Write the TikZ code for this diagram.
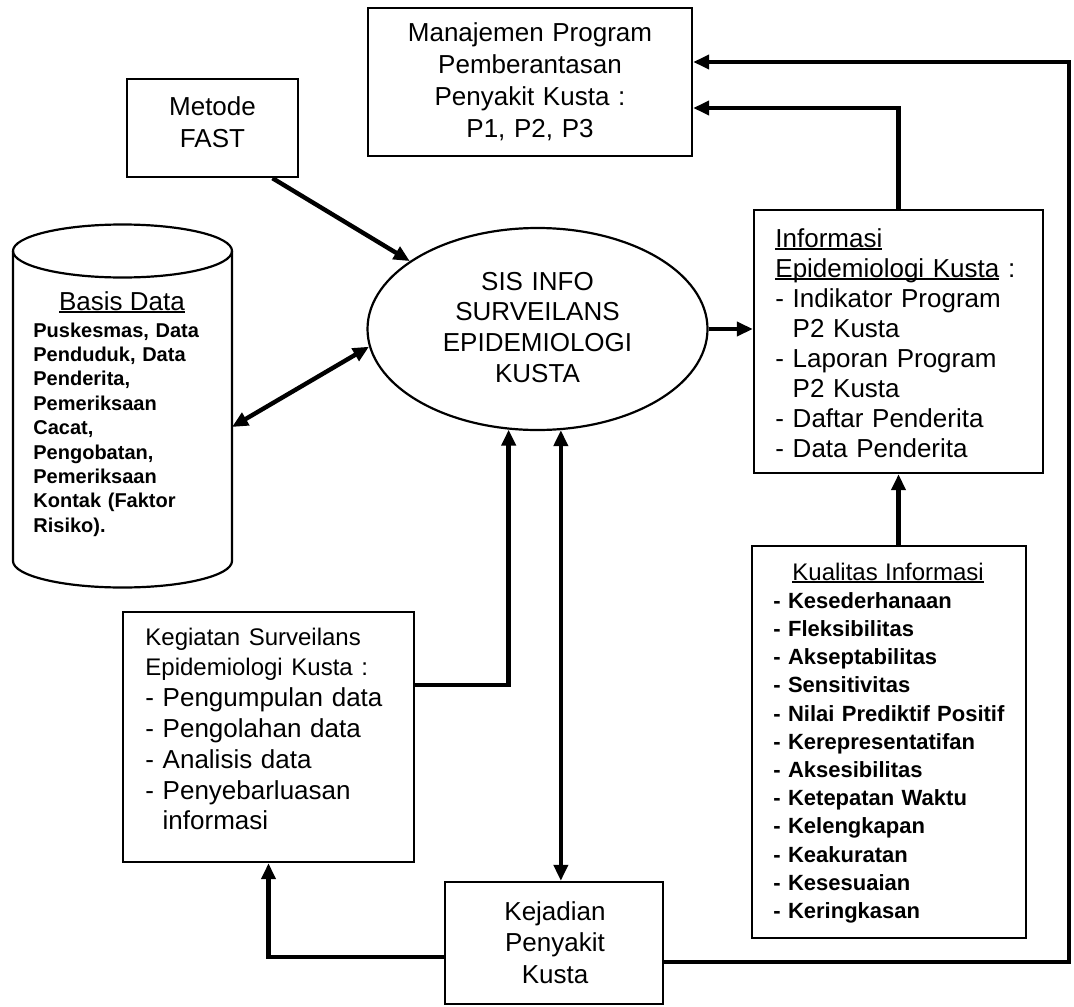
\documentclass[tikz,border=0pt]{standalone}
\usepackage{fontspec}
\setmainfont{Liberation Sans}
\usetikzlibrary{arrows.meta,shapes.geometric}

% underline drawn close to the baseline, as in a word processor
\newsavebox{\wlbox}
\newcommand{\wline}[1]{\leavevmode\sbox{\wlbox}{#1}\rlap{\rule[-0.12em]{\wd\wlbox}{0.065em}}\usebox{\wlbox}}

\begin{document}
\begin{tikzpicture}[x=0.5pt,y=-0.5pt,
  box/.style={draw, rectangle, line width=1.2pt, inner sep=0pt},
  txt/.style={inner sep=0pt, anchor=base},
  ltxt/.style={inner sep=0pt, anchor=base west, align=left},
  tip/.tip={Triangle[length=8pt,width=7pt]},
  flow/.style={line width=2.2pt, -tip},
  both/.style={line width=2.2pt, tip-tip},
  dbline/.style={line width=1.1pt}
]
\fill[white] (0,0) rectangle (1074,1006);
\useasboundingbox (0,0) rectangle (1074,1006);

% ---- boxes ----
\node[box, minimum width=85.5pt, minimum height=49pt] (metode) at (212.5,128) {};
\node[txt, align=center, text width=80pt, font=\fontsize{13}{16}\selectfont] (metodeText) at (212.5,115) {Metode\\FAST};

\node[box, minimum width=162pt, minimum height=74pt] (manaj) at (530,82) {};
\node[txt, align=center, text width=155pt, font=\fontsize{13}{15.85}\selectfont] (manajText) at (530,42)
  {Manajemen Program\\Pemberantasan\\Penyakit Kusta :\\P1, P2, P3};

\node[draw, ellipse, line width=1.1pt, minimum width=170pt, minimum height=101pt, inner sep=0pt] (sis) at (537.5,329) {};
\node[txt, align=center, text width=150pt, font=\fontsize{13}{15.35}\selectfont] (sisText) at (537.5,290)
  {SIS INFO\\SURVEILANS\\EPIDEMIOLOGI\\KUSTA};

\node[box, minimum width=144.5pt, minimum height=131.5pt] (info) at (898.5,341.5) {};
\node[ltxt, text width=132pt, font=\fontsize{13}{15}\selectfont] (infoText) at (775,247)
  {\wline{Informasi}\\\wline{Epidemiologi Kusta}~:\\- Indikator Program\\\phantom{- }P2 Kusta\\- Laporan Program\\\phantom{- }P2 Kusta\\- Daftar Penderita\\- Data Penderita};

\node[box, minimum width=137pt, minimum height=196pt] (kual) at (889,742) {};
\node[ltxt, text width=130pt, font=\bfseries\fontsize{11}{14.1}\selectfont] (kualText) at (773,580)
  {\hspace*{9.5pt}{\mdseries\fontsize{12}{14.1}\selectfont\wline{Kualitas Informasi}}\\
   - Kesederhanaan\\- Fleksibilitas\\- Akseptabilitas\\- Sensitivitas\\- Nilai Prediktif Positif\\
   - Kerepresentatifan\\- Aksesibilitas\\- Ketepatan Waktu\\- Kelengkapan\\- Keakuratan\\
   - Kesesuaian\\- Keringkasan};

\node[box, minimum width=145.5pt, minimum height=125pt] (kegiatan) at (268.5,737) {};
\node[ltxt, text width=130pt, font=\fontsize{13}{15.4}\selectfont] (kegText) at (145,645)
  {{\fontsize{12}{15.4}\selectfont Kegiatan Surveilans}\\{\fontsize{12}{15.4}\selectfont Epidemiologi Kusta :}\\
   - Pengumpulan data\\- Pengolahan data\\- Analisis data\\- Penyebarluasan\\\phantom{- }informasi};

\node[box, minimum width=109pt, minimum height=61pt] (kejadian) at (554,943) {};
\node[txt, align=center, text width=100pt, font=\fontsize{13}{15.75}\selectfont] (kejText) at (555,920)
  {Kejadian\\Penyakit\\Kusta};

% ---- database cylinder ----
\draw[dbline] (13,251) -- (13,561) arc[start angle=180, end angle=360, x radius=54.75pt, y radius=13.25pt] -- (232,251);
\draw[dbline] (122.5,251) ellipse [x radius=54.75pt, y radius=13.25pt];
\node[txt, font=\fontsize{13}{15}\selectfont] (dbHead) at (122,310) {\wline{Basis Data}};
\node[ltxt, text width=95pt, font=\bfseries\fontsize{10}{12.2}\selectfont] (dbText) at (33,337)
  {Puskesmas, Data\\Penduduk, Data\\Penderita,\\Pemeriksaan\\Cacat,\\Pengobatan,\\Pemeriksaan\\Kontak (Faktor\\Risiko).};
\coordinate (dbport) at (232,427);

% ---- connectors ----
\coordinate (rbot) at (1069,962);
\coordinate (rtop) at (1069,62);

\draw[flow] ([xshift=30pt]metode.south) -- (sis.152);
\draw[both] (dbport) -- (sis.186);
\draw[flow] ([yshift=26pt]kegiatan.east) -| (sis.254);
\draw[both] (sis.283) -- (sis.283 |- kejadian.north);
\draw[flow] ([yshift=-7pt]kejadian.west) -| (kegiatan.south);
\draw[flow] ([yshift=-9.5pt]kejadian.east) -- (rbot) -- (rtop) -- ([yshift=10pt]manaj.east);
\draw[flow] (sis.east) -- (sis.east -| info.west);
\draw[flow] (info.north) |- ([yshift=-13pt]manaj.east);
\draw[flow] (kual.north -| info.south) -- (info.south);
\end{tikzpicture}
\end{document}
